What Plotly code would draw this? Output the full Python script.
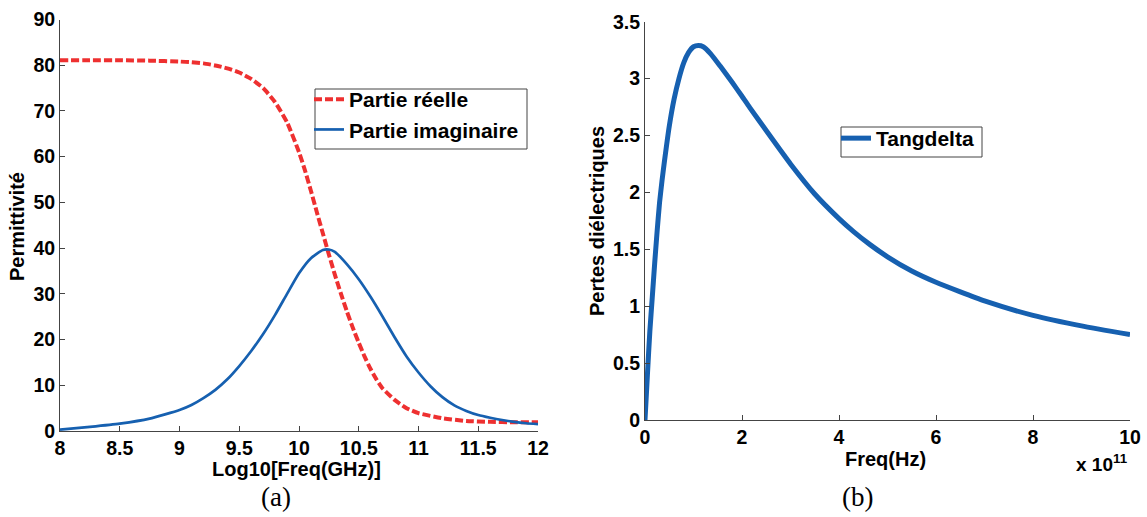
import plotly.graph_objects as go

# ---- Data (a): permittivity vs log10 frequency ----
log_freq_real = [8.0, 8.25, 8.5, 8.75, 9.0, 9.1, 9.2, 9.3, 9.4, 9.5, 9.6, 9.7, 9.8, 9.9,
                 10.0, 10.05, 10.1, 10.15, 10.2, 10.25, 10.3, 10.35, 10.4, 10.45, 10.5, 10.55,
                 10.6, 10.65, 10.7, 10.8, 10.9, 11.0, 11.2, 11.4, 11.6, 11.8, 12.0]
partie_reelle = [81.1, 81.1, 81.1, 81.0, 80.8, 80.65, 80.4, 79.95, 79.3, 78.4, 77.0, 75.0, 71.9, 67.5,
                 61.0, 57.0, 52.5, 47.8, 43.2, 38.6, 34.2, 30.1, 26.2, 22.6, 19.3, 16.2,
                 13.5, 11.2, 9.3, 6.8, 5.0, 3.9, 2.8, 2.2, 2.0, 1.9, 1.9]

log_freq_imag = [8.0, 8.25, 8.5, 8.75, 9.0, 9.1, 9.2, 9.3, 9.4, 9.5, 9.6, 9.7, 9.8, 9.9, 10.0,
                 10.1, 10.2, 10.25, 10.3, 10.4, 10.5, 10.6, 10.7, 10.8, 10.9, 11.0, 11.1, 11.2,
                 11.3, 11.4, 11.5, 11.6, 11.7, 11.8, 11.9, 12.0]
partie_imaginaire = [0.3, 0.9, 1.6, 2.7, 4.6, 5.7, 7.2, 9.0, 11.3, 14.2, 17.5, 21.2, 25.4, 30.0, 34.5,
                     37.8, 39.6, 39.7, 39.2, 36.5, 33.2, 29.3, 25.0, 20.5, 16.3, 12.8, 9.8, 7.4,
                     5.6, 4.4, 3.5, 2.9, 2.4, 2.0, 1.7, 1.5]

# ---- Data (b): loss tangent vs frequency (units of 1e11 Hz) ----
freq_e11 = [0, 0.05, 0.1, 0.15, 0.2, 0.25, 0.3, 0.35, 0.4, 0.5, 0.6, 0.7, 0.8, 0.9, 1.0, 1.1, 1.2,
            1.35, 1.55, 1.8, 2.0, 2.16, 2.58, 3.0, 3.5, 4.0, 4.3, 4.64, 5.0, 5.5, 6.0, 7.0,
            8.0, 9.0, 10.0]
tangdelta = [0, 0.40, 0.78, 1.08, 1.38, 1.66, 1.91, 2.10, 2.27, 2.58, 2.82, 3.00, 3.14, 3.23, 3.28,
             3.29, 3.28, 3.22, 3.11, 2.965, 2.845, 2.745, 2.495, 2.25, 1.986, 1.77, 1.656, 1.541,
             1.434, 1.309, 1.21, 1.046, 0.92, 0.827, 0.75]

xticks_a = [8, 8.5, 9, 9.5, 10, 10.5, 11, 11.5, 12]
yticks_a = [0, 10, 20, 30, 40, 50, 60, 70, 80, 90]
xticks_b = [0, 2, 4, 6, 8, 10]
yticks_b = [0, 0.5, 1, 1.5, 2, 2.5, 3, 3.5]

W, H = 1147, 517
RED = "#ee3030"
BLUE = "#1660b0"
AXC = "#444444"
FONT = "Liberation Sans"

def px_x(p):
    return p / W

def px_y(p):
    return (H - p) / H

fig = go.Figure()
fig.add_trace(go.Scatter(x=log_freq_real, y=partie_reelle, name="Partie réelle", mode="lines",
                         line=dict(color=RED, width=4, dash="8px,3px", shape="spline", smoothing=0.5),
                         xaxis="x", yaxis="y", legend="legend"))
fig.add_trace(go.Scatter(x=log_freq_imag, y=partie_imaginaire, name="Partie imaginaire", mode="lines",
                         line=dict(color=BLUE, width=2.7, shape="spline", smoothing=0.5),
                         xaxis="x", yaxis="y", legend="legend"))
fig.add_trace(go.Scatter(x=freq_e11, y=tangdelta, name="Tangdelta", mode="lines",
                         line=dict(color=BLUE, width=5, shape="spline", smoothing=0.5),
                         xaxis="x2", yaxis="y2", legend="legend2"))

axis_common = dict(showline=True, linecolor=AXC, linewidth=1, ticks="inside", ticklen=5,
                   tickcolor=AXC, showgrid=False, zeroline=False, mirror=False, automargin=False,
                   tickfont=dict(family=FONT, size=19.5, color="black", weight="bold"))

legend_font = dict(family=FONT, size=21, color="black", weight="bold")

fig.update_layout(
    width=W, height=H, margin=dict(l=0, r=0, t=0, b=0, autoexpand=False),
    paper_bgcolor="white", plot_bgcolor="white",
    font=dict(family=FONT, color="black"),
    xaxis=dict(domain=[px_x(60), px_x(538)], range=[8, 12], tickvals=xticks_a, anchor="y", **axis_common),
    yaxis=dict(domain=[px_y(431), px_y(19.5)], range=[0, 90], tickvals=yticks_a, anchor="x", **axis_common),
    xaxis2=dict(domain=[px_x(645), px_x(1130)], range=[0, 10], tickvals=xticks_b, anchor="y2", **axis_common),
    yaxis2=dict(domain=[px_y(420), px_y(21.7)], range=[0, 3.5], tickvals=yticks_b, anchor="x2", **axis_common),
    legend=dict(x=px_x(309), y=px_y(79), xanchor="left", yanchor="top",
                borderwidth=0, bgcolor="rgba(0,0,0,0)", font=legend_font, tracegroupgap=0),
    legend2=dict(x=px_x(836), y=px_y(118), xanchor="left", yanchor="top",
                 borderwidth=0, bgcolor="rgba(0,0,0,0)", font=legend_font),
    showlegend=True,
)

# legend frames
fig.add_shape(type="rect", xref="paper", yref="paper", x0=px_x(315), x1=px_x(527), y0=px_y(149), y1=px_y(89),
              line=dict(color=AXC, width=1), fillcolor="white", layer="above")
fig.add_shape(type="rect", xref="paper", yref="paper", x0=px_x(841), x1=px_x(982), y0=px_y(157), y1=px_y(127),
              line=dict(color=AXC, width=1), fillcolor="white", layer="above")

ann = [
    dict(text="Log10[Freq(GHz)]", x=px_x(296), y=px_y(469), font=dict(size=20)),
    dict(text="Permittivité", x=px_x(17), y=px_y(227), textangle=-90, font=dict(size=20)),
    dict(text="Freq(Hz)", x=px_x(885), y=px_y(459), font=dict(size=20)),
    dict(text="Pertes diélectriques", x=px_x(597), y=px_y(221), textangle=-90, font=dict(size=20)),
    dict(text="x 10<sup>11</sup>", x=px_x(1102), y=px_y(463), font=dict(size=19)),
    dict(text="(a)", x=px_x(276), y=px_y(497), font=dict(size=27, family="Liberation Serif", weight="normal")),
    dict(text="(b)", x=px_x(857), y=px_y(497), font=dict(size=27, family="Liberation Serif", weight="normal")),
]
for a in ann:
    f = dict(family=FONT, color="black", weight="bold")
    f.update(a.pop("font"))
    fig.add_annotation(xref="paper", yref="paper", showarrow=False, xanchor="center", yanchor="middle",
                       font=f, **a)

fig.write_html("out.html", config={"displayModeBar": False},
               post_script="document.body.style.margin='0';")
